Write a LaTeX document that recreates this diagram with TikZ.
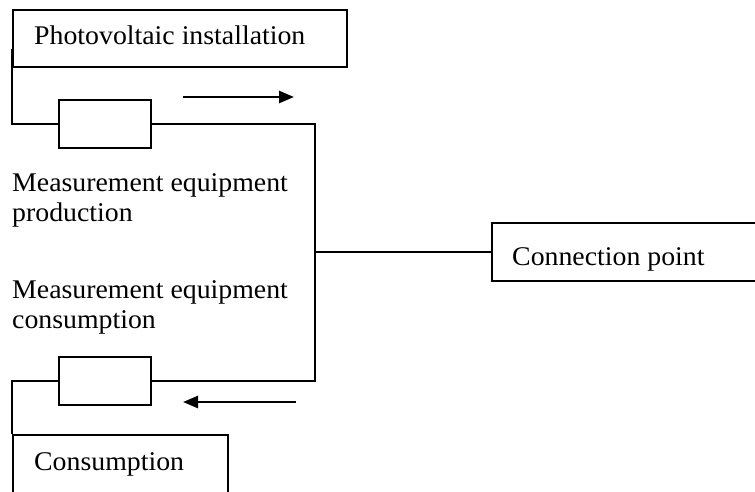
\documentclass[tikz,border=0pt]{standalone}
\usepackage{fontspec}
\setmainfont[FakeStretch=1.03]{Liberation Serif}
\usetikzlibrary{arrows.meta}
\begin{document}
\begin{tikzpicture}[x=1pt,y=-1pt,
  every node/.style={font=\fontsize{27}{30}\selectfont},
  box/.style={draw,line width=1.5pt,inner sep=0pt,anchor=north west},
  meter/.style={draw,line width=1.5pt,minimum width=92pt,minimum height=48pt,inner sep=0pt,anchor=north west},
  lbl/.style={inner sep=0pt,anchor=base west},
  wire/.style={line width=1.5pt},
  feed/.style={line width=2.2pt},
  flow/.style={line width=2.5pt,-{Triangle[length=15pt,width=12pt]}}]
\clip (0,0) rectangle (755,491);
\fill[white] (0,0) rectangle (755,491);
% boxes
\node[box,minimum width=334pt,minimum height=57pt] (pv) at (12,9) {};
\node[box,minimum width=280pt,minimum height=58pt] (cp) at (491,222) {};
\node[box,minimum width=215pt,minimum height=62pt] (cons) at (12,434) {};
\node[meter] (m1) at (58,99) {};
\node[meter] (m2) at (58,356) {};
% box texts
\node[lbl] (tpv) at (34,44) {Photovoltaic installation};
\node[lbl] (tcp) at (512,265) {Connection point};
\node[lbl] (tcons) at (34,470) {Consumption};
% labels
\node[lbl] (lp1) at (12,191) {Measurement equipment};
\node[lbl] (lp2) at (12,221) {production};
\node[lbl] (lc1) at (12,298) {Measurement equipment};
\node[lbl] (lc2) at (12,328) {consumption};
% junction coordinates
\coordinate (pvl) at (12,49);
\coordinate (jt) at (315,124);
\coordinate (jb) at (315,380);
% wires
\draw[feed] (pvl) |- (m1.west);
\draw[wire] (m1.east) -- (m1.east -| jt) -- (jb |- m2.east) -- (m2.east);
\draw[wire] (cp.west) -- (cp.west -| jt);
\draw[feed] (m2.west) -| (cons.north west);
% flow arrows
\coordinate (a1s) at (183,97);
\coordinate (a1e) at (294,97);
\coordinate (a2s) at (296,402);
\coordinate (a2e) at (183,402);
\draw[flow] (a1s) -- (a1e);
\draw[flow] (a2s) -- (a2e);
\end{tikzpicture}
\end{document}
